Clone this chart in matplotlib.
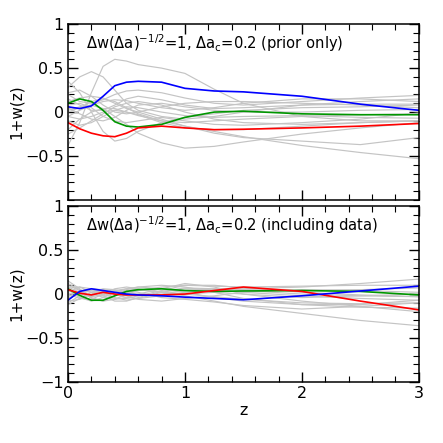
import numpy as np
from matplotlib import pyplot as plt
from matplotlib.ticker import MultipleLocator

# redshift knots
z = [0, 0.1, 0.2, 0.3, 0.4, 0.5, 0.6, 0.8, 1.0, 1.25, 1.5, 2.0, 2.5, 3.0]

# top panel: prior only
prior_gray = [
    [-0.38, -0.12, 0.22, 0.52, 0.60, 0.58, 0.54, 0.50, 0.44, 0.26, 0.10, -0.05, -0.10, -0.10],
    [0.28, 0.40, 0.46, 0.40, 0.25, 0.10, 0.02, -0.05, -0.08, -0.05, 0.0, 0.08, 0.12, 0.15],
    [0.35, 0.22, 0.0, -0.22, -0.33, -0.30, -0.22, -0.12, -0.06, -0.02, 0.02, 0.05, 0.06, 0.08],
    [0.02, 0.06, 0.08, 0.04, -0.05, -0.14, -0.24, -0.35, -0.41, -0.39, -0.34, -0.25, -0.18, -0.12],
    [-0.20, -0.08, 0.0, 0.04, 0.04, 0.0, -0.04, -0.10, -0.16, -0.22, -0.28, -0.38, -0.46, -0.53],
    [0.12, 0.16, 0.18, 0.16, 0.10, 0.04, 0.0, -0.08, -0.16, -0.24, -0.29, -0.33, -0.37, -0.29],
    [0.20, 0.12, 0.10, 0.14, 0.20, 0.24, 0.25, 0.22, 0.16, 0.10, 0.08, 0.12, 0.16, 0.19],
    [-0.05, 0.02, 0.08, 0.12, 0.14, 0.13, 0.10, 0.05, 0.02, 0.05, 0.10, 0.15, 0.15, 0.12],
    [0.05, -0.02, -0.08, -0.10, -0.06, 0.02, 0.08, 0.10, 0.06, 0.02, 0.0, 0.0, 0.02, 0.03],
    [-0.10, -0.15, -0.12, -0.05, 0.02, 0.06, 0.05, 0.0, -0.04, -0.06, -0.05, -0.04, -0.06, -0.07],
    [0.15, 0.08, 0.02, 0.02, 0.08, 0.15, 0.18, 0.14, 0.08, 0.04, 0.05, 0.08, 0.09, 0.09],
    [-0.25, -0.18, -0.10, -0.02, 0.06, 0.10, 0.12, 0.08, 0.0, -0.08, -0.12, -0.14, -0.12, -0.10],
    [0.08, 0.10, 0.05, -0.05, -0.10, -0.12, -0.10, -0.06, -0.10, -0.14, -0.15, -0.12, -0.08, -0.01],
    [-0.05, -0.08, -0.05, 0.0, 0.02, 0.0, -0.03, -0.12, -0.18, -0.20, -0.20, -0.16, -0.12, -0.10],
    [0.22, 0.25, 0.18, 0.08, 0.0, -0.02, 0.0, 0.06, 0.10, 0.12, 0.12, 0.10, 0.08, 0.05],
    [0.0, 0.05, 0.12, 0.15, 0.12, 0.05, -0.02, -0.10, -0.12, -0.10, -0.08, -0.05, -0.03, -0.02],
]
prior_blue = [0.06, 0.04, 0.07, 0.18, 0.30, 0.34, 0.35, 0.34, 0.27, 0.24, 0.23, 0.18, 0.09, 0.02]
prior_green = [0.10, 0.15, 0.12, 0.02, -0.11, -0.16, -0.17, -0.14, -0.06, 0.0, 0.01, -0.02, -0.03, -0.03]
prior_red = [-0.12, -0.19, -0.24, -0.27, -0.28, -0.24, -0.18, -0.16, -0.18, -0.20, -0.195, -0.18, -0.16, -0.13]

# bottom panel: including data
data_gray = [
    [0.12, 0.05, -0.05, -0.08, -0.02, 0.05, 0.08, 0.10, 0.08, 0.02, -0.05, -0.12, -0.15, -0.16],
    [-0.10, -0.02, 0.06, 0.05, 0.0, -0.04, -0.05, -0.02, 0.02, 0.05, 0.06, 0.08, 0.12, 0.17],
    [0.08, 0.08, 0.02, -0.04, -0.06, -0.04, 0.0, 0.06, 0.12, 0.08, 0.0, -0.08, -0.14, -0.20],
    [0.0, -0.05, -0.06, 0.0, 0.06, 0.08, 0.06, 0.02, -0.02, -0.08, -0.14, -0.22, -0.30, -0.36],
    [0.15, 0.06, -0.04, -0.08, -0.06, 0.0, 0.04, 0.08, 0.10, 0.09, 0.08, 0.09, 0.10, 0.10],
    [-0.05, 0.02, 0.05, 0.02, -0.04, -0.07, -0.05, 0.02, 0.06, 0.05, 0.02, -0.02, -0.05, -0.07],
    [0.05, -0.04, -0.08, -0.04, 0.02, 0.04, 0.02, -0.04, -0.06, -0.09, -0.13, -0.17, -0.14, -0.10],
    [-0.08, -0.06, 0.0, 0.05, 0.04, 0.0, -0.02, 0.0, 0.04, 0.06, 0.05, 0.04, 0.05, 0.07],
    [0.10, 0.04, 0.02, 0.03, 0.02, -0.02, -0.06, -0.08, -0.05, -0.02, 0.02, 0.05, 0.04, 0.02],
    [0.02, 0.08, 0.06, 0.0, -0.05, -0.05, -0.02, 0.04, 0.10, 0.10, 0.07, 0.02, -0.01, -0.03],
    [-0.12, -0.05, 0.02, 0.06, 0.05, 0.02, 0.0, -0.02, 0.0, 0.02, 0.0, -0.04, -0.02, 0.0],
    [0.06, 0.0, -0.03, 0.0, 0.04, 0.06, 0.05, 0.02, 0.0, -0.03, -0.06, -0.10, -0.11, -0.10],
    [-0.03, 0.04, 0.04, -0.02, -0.08, -0.08, -0.04, 0.03, 0.07, 0.06, 0.04, 0.0, -0.02, -0.03],
    [0.08, 0.02, -0.02, -0.02, 0.02, 0.06, 0.08, 0.06, 0.02, -0.04, -0.08, -0.12, -0.12, -0.07],
]
data_blue = [-0.07, 0.03, 0.06, 0.04, 0.02, 0.0, -0.01, -0.02, -0.035, -0.05, -0.065, -0.02, 0.035, 0.09]
data_red = [0.05, 0.01, -0.01, 0.02, 0.0, -0.01, -0.01, -0.01, 0.0, 0.04, 0.08, 0.03, -0.08, -0.18]
data_green = [0.06, -0.015, -0.07, -0.07, -0.02, 0.03, 0.05, 0.06, 0.04, 0.03, 0.035, 0.04, 0.03, -0.01]

titles = [r'$\Delta$w($\Delta$a)$^{-1/2}$=1, $\Delta$a$_{\rm c}$=0.2 (prior only)',
          r'$\Delta$w($\Delta$a)$^{-1/2}$=1, $\Delta$a$_{\rm c}$=0.2 (including data)']

plt.rcParams['font.family'] = 'DejaVu Sans'
plt.rcParams['mathtext.fontset'] = 'dejavusans'

fig = plt.figure(figsize=(4.43, 4.43), dpi=100)
ax_top = fig.add_axes([0.1535, 0.5485, 0.792, 0.397])
ax_bot = fig.add_axes([0.1535, 0.1377, 0.792, 0.397])

panels = [(ax_top, prior_gray, prior_blue, prior_green, prior_red),
          (ax_bot, data_gray, data_blue, data_green, data_red)]

for k, (ax, grays, blue, green, red) in enumerate(panels):
    for g in grays:
        ax.plot(z, g, color='#c4c4c4', lw=0.85)
    ax.plot(z, green, color='#009600', lw=1.2)
    ax.plot(z, red, color='red', lw=1.2)
    ax.plot(z, blue, color='blue', lw=1.2)
    ax.set_xlim(0, 3)
    ax.set_ylim(-1, 1)
    ax.xaxis.set_major_locator(MultipleLocator(1))
    ax.xaxis.set_minor_locator(MultipleLocator(0.2))
    ax.yaxis.set_major_locator(MultipleLocator(0.5))
    ax.yaxis.set_minor_locator(MultipleLocator(0.1))
    ax.tick_params(which='both', direction='in', top=True, right=True, labelsize=11.5)
    ax.tick_params(which='major', length=7, width=1, pad=3)
    ax.tick_params(which='minor', length=4, width=0.8)
    for s in ax.spines.values():
        s.set_linewidth(1.1)
    ax.set_ylabel('1+w(z)', fontsize=11)
    ax.yaxis.set_label_coords(-0.125, 0.5)
    ax.text(0.05, 0.86, titles[k], transform=ax.transAxes, fontsize=10.6)

ax_top.set_yticks([-0.5, 0, 0.5, 1])
ax_top.set_yticklabels(['\u22120.5', '0', '0.5', '1'])
ax_top.tick_params(labelbottom=False)
ax_bot.set_yticks([-1, -0.5, 0, 0.5, 1])
ax_bot.set_yticklabels(['\u22121', '\u22120.5', '0', '0.5', '1'])
ax_bot.set_xticks([0, 1, 2, 3])
ax_bot.set_xlabel('z', fontsize=11.5, labelpad=1)

fig.savefig('out.png', dpi=100)
